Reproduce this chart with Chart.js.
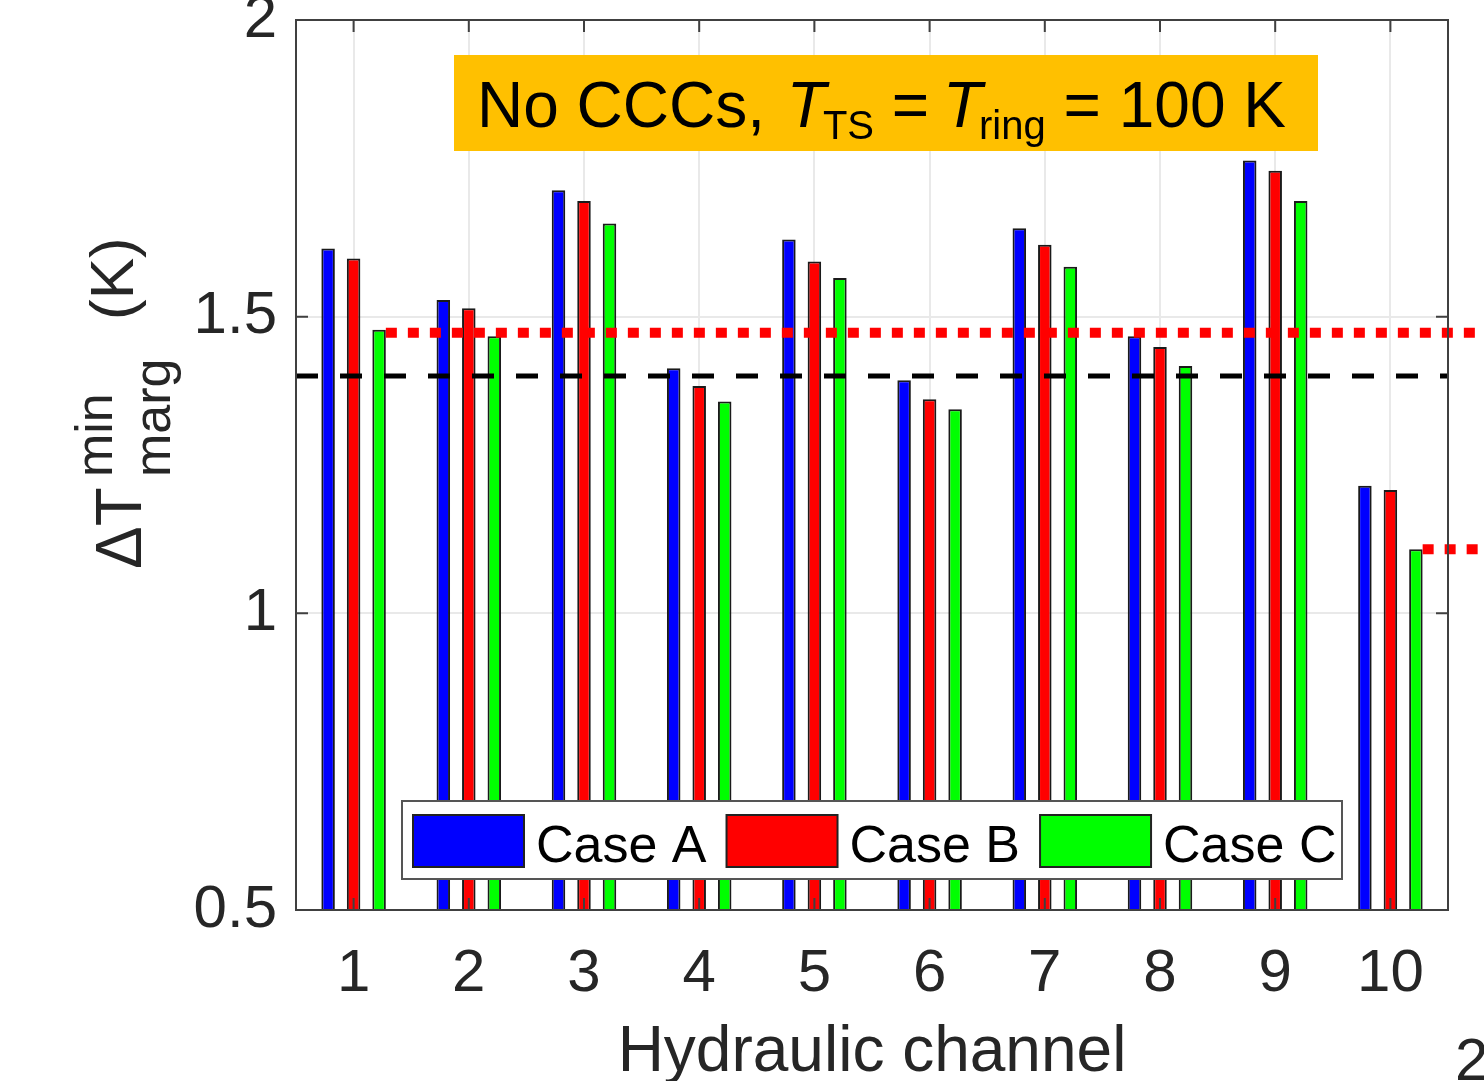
<!DOCTYPE html>
<html>
<head>
<meta charset="utf-8">
<script src="https://cdn.jsdelivr.net/npm/chart.js@4.4.1/dist/chart.umd.min.js"></script>
<style>
  html, body { margin: 0; padding: 0; background: #ffffff; }
  #wrap { width: 1484px; height: 1081px; position: relative; }
</style>
</head>
<body>
<div id="wrap"><canvas id="c" width="1484" height="1081"></canvas></div>
<script>
// ---------------- data ----------------
const channels = ['1', '2', '3', '4', '5', '6', '7', '8', '9', '10'];
const caseA = [1.615, 1.528, 1.713, 1.413, 1.630, 1.393, 1.649, 1.467, 1.763, 1.215];
const caseB = [1.598, 1.514, 1.695, 1.383, 1.593, 1.361, 1.621, 1.449, 1.746, 1.208];
const caseC = [1.478, 1.467, 1.657, 1.357, 1.565, 1.344, 1.584, 1.417, 1.695, 1.108];
const seriesLabels = ['Case A', 'Case B', 'Case C'];
const yTickValues = [0.5, 1, 1.5, 2];
const thresholdValue = 1.4;            // black dashed line
const redLimitValues = [1.473, 1.108]; // red dotted lines
const redLimitStartChannel = [0, 9];   // line starts after this channel's last bar
const xTitle = 'Hydraulic channel';

// ---------------- styles ----------------
const FONT = '"Liberation Sans", Arial, Helvetica, sans-serif';
const seriesColors = ['#0000ff', '#ff0000', '#00ff00'];
const TICK_COLOR = '#262626';
const AXIS_COLOR = '#404040';
const GRID_COLOR = '#e9e9e9';

function drawRuns(ctx, runs, x0, baseline) {
  let x = x0;
  runs.forEach(r => {
    ctx.font = r.font;
    ctx.fillText(r.text, x, baseline + (r.dy || 0));
    x += ctx.measureText(r.text).width + (r.kern || 0);
  });
}

const overlay = {
  id: 'overlay',
  afterDatasetsDraw(chart) {
    const { ctx, chartArea: a, scales: { x, y } } = chart;
    ctx.save();
    // black dashed threshold
    const ty = y.getPixelForValue(thresholdValue);
    ctx.beginPath();
    ctx.setLineDash([22, 22]);
    ctx.lineWidth = 5;
    ctx.strokeStyle = '#000000';
    ctx.moveTo(a.left, ty);
    ctx.lineTo(a.right, ty);
    ctx.stroke();
    // red dotted lines
    const lastMeta = chart.getDatasetMeta(chart.data.datasets.length - 1);
    ctx.setLineDash([11, 11]);
    ctx.lineWidth = 10;
    ctx.strokeStyle = '#ff0000';
    redLimitValues.forEach((v, i) => {
      const bar = lastMeta.data[redLimitStartChannel[i]];
      const x0 = bar.x + bar.width / 2;
      const py = y.getPixelForValue(v);
      ctx.beginPath();
      ctx.moveTo(x0, py);
      ctx.lineTo(chart.width, py);
      ctx.stroke();
    });
    ctx.setLineDash([]);
    // axes box
    ctx.strokeStyle = AXIS_COLOR;
    ctx.lineWidth = 2;
    ctx.strokeRect(a.left, a.top, a.right - a.left, a.bottom - a.top);
    // inward ticks
    const tl = 12;
    ctx.beginPath();
    x.ticks.forEach((t, i) => {
      const px = x.getPixelForTick(i);
      ctx.moveTo(px, a.top); ctx.lineTo(px, a.top + tl);
      ctx.moveTo(px, a.bottom); ctx.lineTo(px, a.bottom - tl);
    });
    y.ticks.forEach((t, i) => {
      const py = y.getPixelForValue(t.value);
      ctx.moveTo(a.left, py); ctx.lineTo(a.left + tl, py);
      ctx.moveTo(a.right, py); ctx.lineTo(a.right - tl, py);
    });
    ctx.stroke();
    ctx.restore();
  },
  afterDraw(chart) {
    const { ctx, chartArea: a } = chart;
    ctx.save();
    // ---- title box ----
    ctx.fillStyle = '#ffc000';
    ctx.fillRect(454, 55, 864, 96);
    ctx.fillStyle = '#000000';
    ctx.textBaseline = 'alphabetic';
    ctx.textAlign = 'left';
    const big = '64px ' + FONT, bigI = 'italic 64px ' + FONT, sub = '40px ' + FONT;
    drawRuns(ctx, [
      { text: 'No CCCs, ', font: big, kern: 4 },
      { text: 'T', font: bigI, kern: -3 },
      { text: 'TS', font: sub, dy: 12 },
      { text: ' = ', font: big, kern: -4 },
      { text: 'T', font: bigI, kern: -3 },
      { text: 'ring', font: sub, dy: 12 },
      { text: ' = 100 K', font: big }
    ], 477, 127);

    // ---- legend ----
    ctx.fillStyle = '#ffffff';
    ctx.fillRect(402, 801, 940, 78);
    ctx.strokeStyle = '#555555';
    ctx.lineWidth = 2;
    ctx.strokeRect(402, 801, 940, 78);
    ctx.font = '52px ' + FONT;
    let lx = 413;
    chart.data.datasets.forEach(ds => {
      ctx.fillStyle = ds.backgroundColor;
      ctx.fillRect(lx, 815, 111, 52);
      ctx.strokeStyle = '#222222';
      ctx.lineWidth = 2;
      ctx.strokeRect(lx, 815, 111, 52);
      ctx.fillStyle = '#000000';
      ctx.fillText(ds.label, lx + 123, 862);
      lx += 123 + ctx.measureText(ds.label).width + 20;
    });

    // ---- y axis title (rotated) ----
    ctx.save();
    ctx.translate(0, 569);
    ctx.rotate(-Math.PI / 2);
    ctx.fillStyle = '#262626';
    ctx.font = '64px ' + FONT;
    ctx.fillText('\u0394T', 0, 141);
    ctx.font = '52px ' + FONT;
    ctx.fillText('min', 92, 112);
    ctx.fillText('marg', 92, 170);
    ctx.font = '62px ' + FONT;
    ctx.fillText('(K)', 249, 133);
    ctx.restore();

    // ---- x axis title ----
    ctx.fillStyle = '#262626';
    ctx.font = '64px ' + FONT;
    ctx.textAlign = 'center';
    ctx.fillText(xTitle, (a.left + a.right) / 2, 1071);
    // cut-off neighbouring panel label
    ctx.textAlign = 'left';
    ctx.font = '60px ' + FONT;
    ctx.fillText('2', 1455, 1080);
    ctx.restore();
  }
};

const datasets = [caseA, caseB, caseC].map((vals, i) => ({
  label: seriesLabels[i],
  data: vals,
  backgroundColor: seriesColors[i],
  borderColor: '#1a1a1a',
  borderWidth: 2,
  base: 0.5,
  categoryPercentage: 0.664,
  barPercentage: 0.53
}));

new Chart(document.getElementById('c'), {
  type: 'bar',
  data: { labels: channels, datasets },
  options: {
    responsive: false,
    devicePixelRatio: 1,
    animation: false,
    layout: { padding: { top: 20, right: 36, left: 0, bottom: 0 } },
    plugins: { legend: { display: false }, tooltip: { enabled: false }, title: { display: false } },
    scales: {
      x: {
        type: 'category',
        offset: true,
        grid: { offset: false, color: GRID_COLOR, lineWidth: 2, drawTicks: false },
        border: { display: false },
        ticks: { font: { family: FONT, size: 60 }, color: TICK_COLOR, padding: 28, maxRotation: 0, autoSkip: false },
        afterFit(s) { s.height = 171; s.paddingLeft = 0; s.paddingRight = 0; }
      },
      y: {
        min: 0.5,
        max: 2,
        afterBuildTicks(s) { s.ticks = yTickValues.map(v => ({ value: v })); },
        grid: { color: GRID_COLOR, lineWidth: 2, drawTicks: false },
        border: { display: false },
        ticks: { font: { family: FONT, size: 60 }, color: TICK_COLOR, padding: 19, callback: v => String(v) },
        afterFit(s) { s.width = 296; s.paddingTop = 0; s.paddingBottom = 0; }
      }
    }
  },
  plugins: [overlay]
});
</script>
</body>
</html>
